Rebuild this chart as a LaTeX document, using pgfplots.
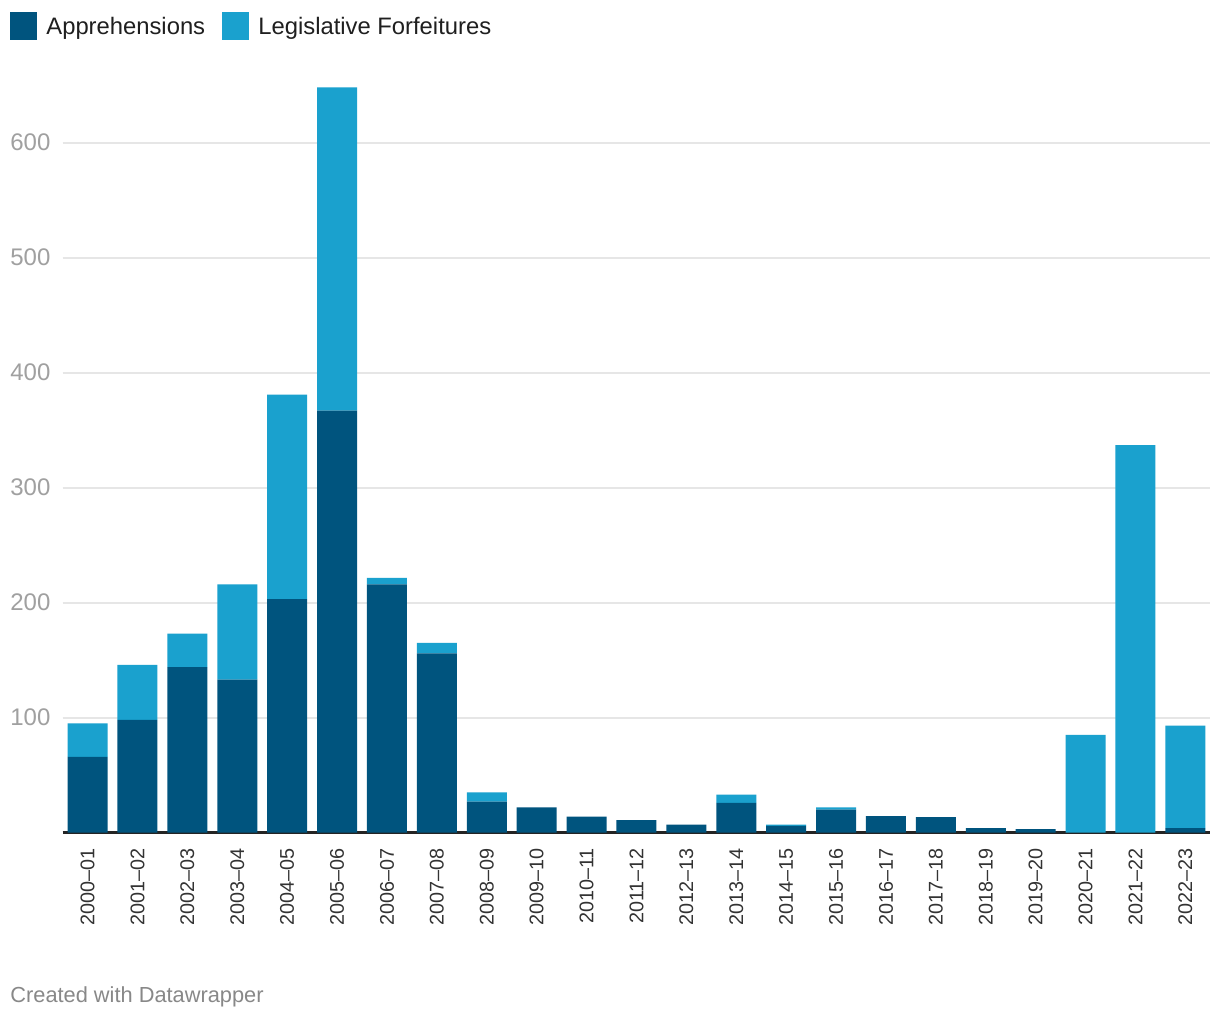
\documentclass[border=0pt]{standalone}
\usepackage{pgfplots}
\pgfplotsset{compat=1.18}
\usepackage{fontspec}
\setmainfont{Liberation Sans}
\definecolor{dark}{HTML}{00547E}
\definecolor{light}{HTML}{1AA1CE}
\definecolor{gridc}{HTML}{E6E6E6}
\definecolor{ylab}{HTML}{A0A0A0}
\definecolor{xlab}{HTML}{333333}
\definecolor{foot}{HTML}{888888}
\begin{document}
\begin{tikzpicture}
\path[use as bounding box, fill=white] (0,0) rectangle (610pt,510pt);
\begin{axis}[
  at={(31.3pt,93.65pt)}, anchor=south west,
  scale only axis, width=573.85pt, height=379.5pt,
  xmin=-0.5, xmax=22.5, ymin=0, ymax=660,
  ybar stacked, bar width=20pt,
  axis line style={draw=none},
  major tick length=0pt,
  ytick={100,200,300,400,500,600},
  xmajorgrids=false, ymajorgrids=true,
  major grid style={draw=gridc, line width=1pt},
  /pgf/number format/assume math mode=true,
  yticklabel style={anchor=west, inner sep=0pt, xshift=-26.3pt, font=\fontsize{12}{14}\selectfont, text=ylab},
  xtick=data,
  xticklabels={2000--01,2001--02,2002--03,2003--04,2004--05,2005--06,2006--07,2007--08,2008--09,2009--10,2010--11,2011--12,2012--13,2013--14,2014--15,2015--16,2016--17,2017--18,2018--19,2019--20,2020--21,2021--22,2022--23},
  xticklabel style={yshift=-7.5pt, rotate=90, anchor=east, inner sep=0pt, font=\fontsize{9.9}{12}\selectfont, text=xlab},
  clip=false,
]
\addplot[fill=dark, draw=none] coordinates {
(0,66) (1,98) (2,144) (3,133) (4,203) (5,367) (6,216) (7,156) (8,27) (9,22) (10,14) (11,11) (12,7) (13,26) (14,6) (15,20) (16,14.5) (17,13.6) (18,4) (19,3) (20,0) (21,0) (22,4)};
\addplot[fill=light, draw=none] coordinates {
(0,29) (1,48) (2,29) (3,83) (4,178) (5,281) (6,5.5) (7,9) (8,8) (9,0) (10,0) (11,0) (12,0) (13,7) (14,1) (15,2) (16,0) (17,0) (18,0) (19,0) (20,85) (21,337) (22,89)};
\draw[color=xlab!70!black, line width=1.5pt] (axis cs:-0.5,0) -- (axis cs:22.5,0);
\end{axis}
% legend
\fill[dark] (5pt,490pt) rectangle (18.5pt,504pt);
\node[anchor=west, inner sep=0pt, text=xlab!60!black, font=\fontsize{11.9}{14}\selectfont] at (23pt,496pt) {Apprehensions};
\fill[light] (111pt,490pt) rectangle (124.5pt,504pt);
\node[anchor=west, inner sep=0pt, text=xlab!60!black, font=\fontsize{11.9}{14}\selectfont] at (129pt,496pt) {Legislative Forfeitures};
% footer
\node[anchor=west, inner sep=0pt, text=foot, font=\fontsize{10.9}{13}\selectfont] at (5pt,11.5pt) {Created with Datawrapper};
\end{tikzpicture}
\end{document}
